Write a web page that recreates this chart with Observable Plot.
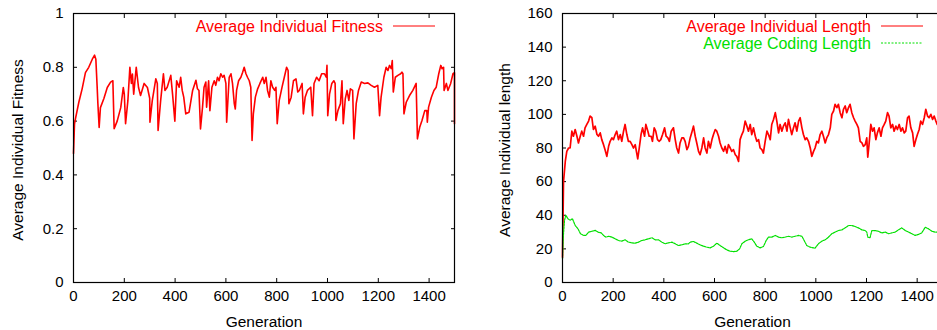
<!DOCTYPE html>
<html><head><meta charset="utf-8">
<script src="https://cdn.jsdelivr.net/npm/d3@7"></script>
<script src="https://cdn.jsdelivr.net/npm/@observablehq/plot@0.6"></script>
<style>
html,body{margin:0;padding:0;background:#fff;overflow:hidden}
#wrap{position:relative;width:937px;height:330px;overflow:hidden}
#left{position:absolute;left:0;top:0;width:467px}
#right{position:absolute;left:467px;top:0;width:480px}
svg{max-width:none !important}
</style></head><body>
<div id="wrap"><div id="left"></div><div id="right"></div></div>
<script>
const genTicks = [0, 200, 400, 600, 800, 1000, 1200, 1400];
const fitnessTicks = [0, 0.2, 0.4, 0.6, 0.8, 1];
const lengthTicks = [0, 20, 40, 60, 80, 100, 120, 140, 160];

const fitnessGen = [0,4,8,21,34,47,60,74,83,88,93,96,101,106,120,133,146,155,160,172,186,196,200,205,214,222,228,232,237,247,256,264,278,291,300,301,310,324,330,333,343,354,360,369,383,390,399,406,416,422,428,434,442,455,469,482,488,494,500,508,514,521,524,532,537,545,554,560,567,573,580,587,593,600,603,610,613,620,626,633,637,642,650,659,666,672,679,685,692,698,703,708,716,725,734,745,751,758,764,771,777,784,792,797,802,810,821,830,839,845,848,857,866,876,883,889,900,905,912,921,934,941,947,957,967,977,988,995,998,1001,1008,1017,1025,1030,1033,1041,1051,1057,1062,1070,1077,1084,1090,1099,1104,1113,1122,1133,1146,1159,1172,1185,1198,1205,1211,1222,1231,1238,1244,1251,1255,1259,1267,1277,1288,1293,1297,1301,1310,1323,1336,1349,1354,1363,1372,1383,1391,1393,1398,1409,1419,1428,1438,1446,1451,1457,1459,1468,1474,1485,1494,1500,1500];
const fitnessVal = [0.48,0.59,0.61,0.67,0.72,0.78,0.80,0.83,0.845,0.83,0.73,0.665,0.576,0.65,0.685,0.725,0.745,0.75,0.572,0.60,0.65,0.725,0.70,0.59,0.675,0.80,0.74,0.775,0.70,0.80,0.725,0.695,0.74,0.725,0.685,0.596,0.675,0.757,0.74,0.565,0.675,0.776,0.714,0.726,0.77,0.70,0.60,0.75,0.726,0.763,0.714,0.689,0.627,0.633,0.714,0.752,0.72,0.714,0.571,0.652,0.726,0.745,0.652,0.75,0.639,0.726,0.75,0.733,0.763,0.75,0.776,0.763,0.77,0.74,0.596,0.714,0.763,0.776,0.74,0.665,0.645,0.714,0.75,0.763,0.782,0.80,0.776,0.763,0.75,0.726,0.528,0.627,0.689,0.72,0.74,0.763,0.74,0.763,0.714,0.689,0.75,0.726,0.714,0.726,0.59,0.677,0.726,0.763,0.80,0.788,0.665,0.689,0.75,0.757,0.708,0.714,0.74,0.627,0.689,0.714,0.726,0.62,0.74,0.763,0.75,0.776,0.776,0.763,0.807,0.62,0.70,0.74,0.75,0.74,0.602,0.639,0.665,0.75,0.59,0.683,0.714,0.677,0.72,0.714,0.534,0.665,0.714,0.745,0.74,0.742,0.733,0.726,0.733,0.62,0.689,0.763,0.80,0.788,0.807,0.795,0.825,0.708,0.763,0.77,0.776,0.782,0.776,0.627,0.67,0.695,0.714,0.74,0.534,0.577,0.602,0.639,0.639,0.596,0.652,0.689,0.714,0.726,0.776,0.807,0.795,0.80,0.714,0.74,0.714,0.74,0.776,0.78,0.59];

const lengthGen = [0,4,11,17,24,30,37,43,50,57,63,70,76,83,89,96,103,109,116,122,129,136,142,149,155,162,168,175,182,188,195,201,208,214,221,228,234,241,247,254,260,267,274,280,287,293,297,303,310,316,324,329,337,342,350,355,362,368,375,382,388,395,403,409,416,422,429,438,445,451,458,464,471,478,484,491,497,504,510,517,524,530,537,543,550,557,563,570,576,583,590,596,603,609,616,622,629,636,642,649,655,662,668,675,682,688,695,701,708,714,721,728,734,741,747,754,761,767,774,780,787,793,800,807,813,820,826,833,840,846,853,859,866,872,879,886,892,899,905,912,918,925,932,938,945,951,958,964,971,978,984,991,997,1004,1010,1017,1024,1030,1037,1043,1050,1057,1063,1070,1076,1083,1089,1096,1103,1109,1116,1122,1129,1135,1142,1149,1155,1162,1168,1175,1182,1188,1195,1201,1205,1210,1217,1224,1230,1237,1243,1250,1257,1263,1270,1276,1283,1289,1296,1303,1309,1316,1322,1329,1336,1342,1349,1355,1362,1368,1375,1382,1388,1395,1401,1408,1414,1421,1428,1434,1441,1447,1454,1461,1467,1474,1479,1490,1500];
const lengthVal = [15,60,72,78,80,80,90,87,91,87,83,87,90,87,92,94,96,99,98,91,93,88,87,89,85,82,79,75,81,84,86,85,88,90,85,88,84,90,94,88,84,84,82,80,82,77,73.5,80,88,92,87,94,90,87,87,84,92,90,85,84,85,88,92,87,86,84,90,92,85,80,77,83,86,86,84,79,81,86,89,93,87,83,78,76,80,86,80,77,84,80,85,88,91,90,87,83,80,78,81,77,82,80,78,79,76,75,72,85,88,90,96,93,90,94,88,92,87,84,85,80,79,77,84,90,88,85,94,97,101,96,89,94,90,93,95,90,97,92,88,92,95,90,96,98,92,88,85,86,84,80,75,78,80,84,83,88,90,87,83,86,88,92,100,102,106,104,106,101,98,103,105,101,104,106,101,98,96,94,92,84,83,81,82,86,74.5,82,94,90,92,85,89,92,87,92,94,96,101,99,92,94,90,93,91,94,90,92,89,90,98,99,92,89,81,85,88,91,96,94,98,103,99,98,100,97,99,96,94,95,93];

const codingGen = [0,3,8,13,21,30,39,50,61,71,83,92,103,116,129,140,153,162,171,182,195,208,221,234,247,260,274,287,300,313,326,339,353,366,379,392,405,418,432,445,458,471,484,497,504,517,530,543,557,570,583,596,609,622,636,649,662,675,688,699,708,721,734,747,757,767,780,793,804,813,826,840,853,866,879,892,905,918,932,945,954,964,978,991,997,1010,1024,1037,1050,1063,1076,1089,1103,1116,1129,1142,1155,1168,1182,1195,1201,1205,1214,1221,1234,1247,1260,1274,1287,1300,1313,1326,1339,1353,1366,1379,1392,1405,1418,1432,1445,1458,1471,1482,1500];
const codingVal = [14,27,37,40,38,37,38,34,32,29,28,28,30,30.5,31,30,29.5,28,27,27.5,27,26,25,24.6,25.4,24,23.6,23.4,24,25,25.4,26,26.6,25.4,25.4,24,23,23.6,24,23,22,22.4,23,23,24,24.4,23.4,22.4,21.6,21,20.6,21.6,23.4,22,20.6,19.4,18.6,18.4,18.6,20,23,24.6,25.4,26,24,21.6,20.6,21.4,25,27,27,28,27,26.6,27,27.5,27,27.5,28,27.5,25,22,21,20.6,20.4,23,24.6,25.4,27,29,30,30.9,31.3,32.5,33.9,33.9,33.3,32.5,31.3,30.9,30,27,26.6,30.9,30.9,30.5,29.5,30,29,29.5,30,31.3,32.5,30.9,30,29,28,28.6,29.5,32.9,31.9,30.5,30,30,30];

const RED = "#ff0000", GREEN = "#00e000";
const FONT = "'Liberation Sans', Arial, Helvetica, sans-serif";
const toRows = (gs, vs) => gs.map((g, i) => ({g, v: vs[i]}));

function legendMark(items) {
  return (index, scales, values, dims) => {
    const g = d3.create("svg:g").attr("font-family", FONT).attr("font-size", 16);
    const right = dims.width - dims.marginRight;
    items.forEach((it, i) => {
      const y = dims.marginTop + 13 + i * 17;
      g.append("text").attr("x", right - 71).attr("y", y).attr("dy", "0.35em")
        .attr("text-anchor", "end").attr("fill", it.color).text(it.label);
      g.append("line").attr("x1", right - 61).attr("x2", right - 19).attr("y1", y).attr("y2", y)
        .attr("stroke", it.color).attr("stroke-width", 1).attr("stroke-dasharray", it.dash || null);
    });
    return g.node();
  };
}

function panel({width, marginLeft, marginRight, yDomain, yTicks, yLabel, labelDx, lines, legend}) {
  return Plot.plot({
    width, height: 330, marginLeft, marginRight, marginTop: 13, marginBottom: 48,
    style: {fontFamily: FONT, fontSize: "15px", color: "#000", background: "#fff", overflow: "visible", maxWidth: "none"},
    x: {domain: [0, 1500]},
    y: {domain: yDomain},
    marks: [
      Plot.axisX(genTicks, {anchor: "bottom", tickSize: -4, tickPadding: 12, tickFormat: d => String(d), label: null, fontSize: 15}),
      Plot.axisX(genTicks, {anchor: "top", tickSize: -4, tickFormat: () => "", label: null}),
      Plot.axisY(yTicks, {anchor: "left", tickSize: -4, tickPadding: 14, tickFormat: d => String(d), label: null, fontSize: 15}),
      Plot.axisY(yTicks, {anchor: "right", tickSize: -4, tickFormat: () => "", label: null}),
      ...lines,
      Plot.frame({stroke: "#000", strokeWidth: 1.2}),
      Plot.text([yLabel], {frameAnchor: "left", rotate: -90, dx: labelDx, dy: 2, text: d => d, textAnchor: "middle", lineAnchor: "middle", fontSize: 15.5}),
      Plot.text(["Generation"], {frameAnchor: "bottom", dy: 40, text: d => d, textAnchor: "middle", lineAnchor: "middle", fontSize: 15.5}),
      legendMark(legend)
    ]
  });
}

document.getElementById("left").append(panel({
  width: 467, marginLeft: 73, marginRight: 13,
  yDomain: [0, 1], yTicks: fitnessTicks, yLabel: "Average Individual Fitness", labelDx: -55,
  lines: [Plot.line(toRows(fitnessGen, fitnessVal), {x: "g", y: "v", stroke: RED, strokeWidth: 1.6, strokeLinejoin: "round"})],
  legend: [{label: "Average Individual Fitness", color: RED}]
}));

document.getElementById("right").append(panel({
  width: 480, marginLeft: 95, marginRight: 5,
  yDomain: [0, 160], yTicks: lengthTicks, yLabel: "Average Individual length", labelDx: -57,
  lines: [
    Plot.line(toRows(lengthGen, lengthVal), {x: "g", y: "v", stroke: RED, strokeWidth: 1.7, strokeLinejoin: "round"}),
    Plot.line(toRows(codingGen, codingVal), {x: "g", y: "v", stroke: GREEN, strokeWidth: 1.2, strokeDasharray: "2,1"})
  ],
  legend: [
    {label: "Average Individual Length", color: RED},
    {label: "Average Coding Length", color: GREEN, dash: "2,1.5"}
  ]
}));
</script>
</body></html>
